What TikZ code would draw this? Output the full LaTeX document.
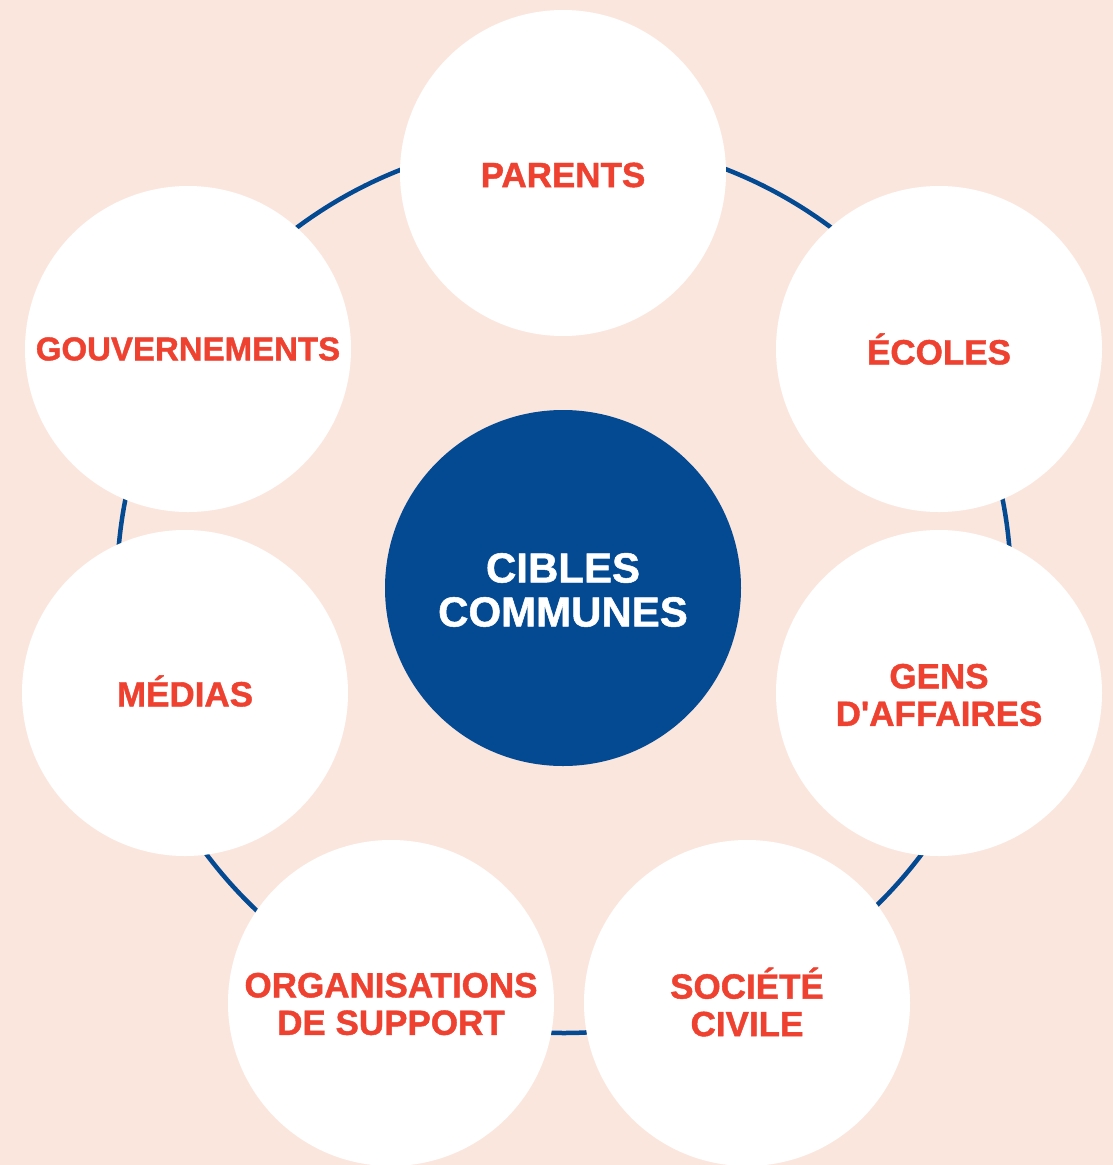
\documentclass[tikz,border=0pt]{standalone}
\usepackage{fontspec}
\setmainfont{Liberation Sans}
\newfontfamily\heavyfont{Liberation Sans Bold}[FakeBold=1.2]
\definecolor{bgpeach}{HTML}{FBE6DD}
\definecolor{ringblue}{HTML}{034A92}
\definecolor{txtred}{HTML}{EE4130}
\tikzset{
  outer/.style={circle, fill=white, minimum size=326pt, inner sep=0pt},
  inner/.style={circle, fill=ringblue, minimum size=356pt, inner sep=0pt},
  ring/.style={draw=ringblue, line width=4.5pt},
  lbl/.style={text=txtred, font=\heavyfont\fontsize{35}{37.5}\selectfont, align=center, inner sep=0pt}
}
\begin{document}
\begin{tikzpicture}[x=1pt,y=-1pt]
\fill[bgpeach] (0,0) rectangle (1113,1165);
\useasboundingbox (0,0) rectangle (1113,1165);
\coordinate (ringc) at (564,586);
\draw[ring] (ringc) circle[radius=447];
\node[outer] (parents) at (563,173) {};
\node[outer] (ecoles) at (939,349) {};
\node[outer] (gouv) at (188,349) {};
\node[outer] (medias) at (185,693) {};
\node[outer] (gens) at (939,693) {};
\node[outer] (orgs) at (391,1003) {};
\node[outer] (societe) at (747,1003) {};
\node[inner] (cibles) at (563,588) {};
\node[lbl] (tparents) at ([yshift=-2pt]parents.center) {PARENTS};
\node[lbl] (tecoles) at (ecoles.center) {ÉCOLES};
\node[lbl, font=\heavyfont\fontsize{33}{37.5}\selectfont] (tgouv) at (gouv.center) {GOUVERNEMENTS};
\node[lbl] (tmedias) at ([yshift=2pt]medias.center) {MÉDIAS};
\node[lbl] (tgens) at ([yshift=-2pt]gens.center) {GENS\\D\textquotesingle AFFAIRES};
\node[lbl] (torgs) at ([yshift=-1pt]orgs.center) {ORGANISATIONS\\DE SUPPORT};
\node[lbl] (tsociete) at ([yshift=1pt]societe.center) {SOCIÉTÉ\\CIVILE};
\node[lbl, text=white, font=\heavyfont\fontsize{42}{44}\selectfont] (tcibles) at ([yshift=-2pt]cibles.center) {CIBLES\\COMMUNES};
\end{tikzpicture}
\end{document}
